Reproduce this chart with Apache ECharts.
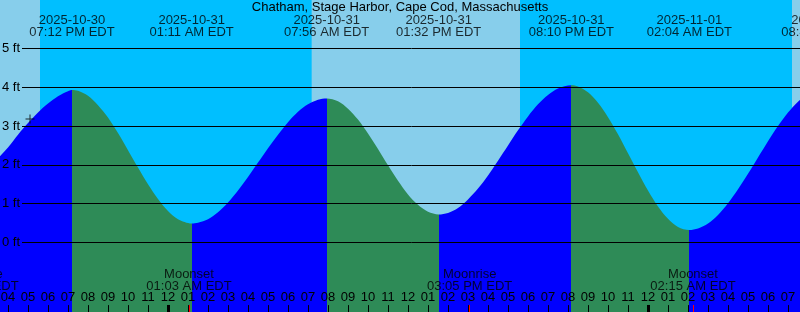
<!DOCTYPE html>
<html><head><meta charset="utf-8">
<script src="https://cdn.jsdelivr.net/npm/echarts@6/dist/echarts.min.js"></script>
<style>html,body{margin:0;padding:0;background:#00BFFF}#c{width:800px;height:312px}</style>
</head><body><div id="c"></div>
<script>
// ---- data (hours relative to 2025-10-31 00:00 EDT) ----
const titleText = 'Chatham, Stage Harbor, Cape Cod, Massachusetts';
const tideHours = [-9, -8.5, -8, -7.5, -7, -6.5, -6, -5.5, -5, -4.8,
  -4.5, -4, -3.5, -3, -2.5, -2, -1.5, -1, -0.5, 0, 0.5, 1.183,
  1.5, 2, 2.5, 3, 3.5, 4, 4.5, 5, 5.5, 6, 6.5, 7, 7.5, 7.933,
  8.5, 9, 9.5, 10, 10.5, 11, 11.5, 12, 12.5, 13, 13.533,
  14, 14.5, 15, 15.5, 16, 16.5, 17, 17.5, 18, 18.5, 19, 19.5, 20.167,
  20.5, 21, 21.5, 22, 22.5, 23, 23.5, 24, 24.5, 25, 25.5, 26.067,
  26.5, 27, 27.5, 28, 28.5, 29, 29.5, 30, 30.5, 31, 31.5, 32, 32.5, 32.8];
const tideFeet = [1.88, 2.17, 2.45, 2.78, 3.08, 3.35, 3.58, 3.77, 3.90, 3.93,
  3.91, 3.78, 3.54, 3.22, 2.82, 2.38, 1.93, 1.50, 1.12, 0.81, 0.60, 0.49,
  0.51, 0.60, 0.78, 1.03, 1.34, 1.69, 2.06, 2.43, 2.78, 3.10, 3.37, 3.56, 3.68, 3.71,
  3.64, 3.45, 3.17, 2.81, 2.41, 1.99, 1.59, 1.24, 0.97, 0.79, 0.72,
  0.76, 0.89, 1.11, 1.39, 1.73, 2.11, 2.50, 2.89, 3.25, 3.56, 3.80, 3.97, 4.05,
  4.02, 3.87, 3.60, 3.23, 2.79, 2.30, 1.81, 1.34, 0.93, 0.61, 0.40, 0.32,
  0.36, 0.49, 0.71, 1.01, 1.37, 1.77, 2.19, 2.61, 3.00, 3.35, 3.63, 3.82, 3.93, 3.95];
const eventHours = [-4.8, 1.183, 7.933, 13.533, 20.167, 26.067, 32.8];
const eventKinds = ['high', 'low', 'high', 'low', 'high', 'low', 'high'];
const eventDates = ['2025-10-30', '2025-10-31', '2025-10-31', '2025-10-31', '2025-10-31', '2025-11-01', '2025-11-01'];
const eventClock = ['07:12 PM EDT', '01:11 AM EDT', '07:56 AM EDT', '01:32 PM EDT', '08:10 PM EDT', '02:04 AM EDT', '08:48 AM EDT'];
const moonHours = [-9.6, 1.05, 15.083, 26.25];
const moonNames = ['Moonrise', 'Moonset', 'Moonrise', 'Moonset'];
const moonClock = ['02:24 PM EDT', '01:03 AM EDT', '03:05 PM EDT', '02:15 AM EDT'];
const dayStartHours = [-9, 7.183, 31.2];
const dayEndHours = [-6.4, 17.6, 32];
const midnightHours = [0, 24];
const footLevels = [0, 1, 2, 3, 4, 5];
const nowHour = -6.9, nowFeet = 3.18;

// ---- layout / style constants ----
const X_MIN = -9, X_MAX = 32, Y_MIN = -2, Y_MAX = 7;
const TOP_LABEL_FT = 5.58, MOON_LABEL_FT = -0.966, TICK_TOP_FT = -1.61, LINE_START_H = -7.3;
const RISE = '#0000FF', FALL = '#2E8B57', DAY = '#87CEEB', NIGHT = '#00BFFF';
const FONT = 'Liberation Sans, Arial, sans-serif';

const pieces = [];
let prev = null;
eventHours.forEach((t, i) => {
  const p = { lt: t, color: eventKinds[i] === 'high' ? RISE : FALL };
  if (prev !== null) p.gte = prev;
  pieces.push(p);
  prev = t;
});
pieces.push({ gte: prev, color: eventKinds[eventKinds.length - 1] === 'high' ? FALL : RISE });

function hourLabel(v) {
  const h = ((Math.round(v) % 24) + 24) % 24;
  const h12 = h % 12 === 0 ? 12 : h % 12;
  return (h12 < 10 ? '0' : '') + h12;
}

const tickLines = [];
midnightHours.forEach(t => tickLines.push([{ coord: [t, Y_MIN], lineStyle: { color: '#000', width: 3 } }, { coord: [t, TICK_TOP_FT] }]));
moonHours.forEach(t => tickLines.push([{ coord: [t, Y_MIN], lineStyle: { color: '#FF0000', width: 1 } }, { coord: [t, TICK_TOP_FT] }]));

const chart = echarts.init(document.getElementById('c'));
chart.setOption({
  animation: false,
  backgroundColor: NIGHT,
  title: { text: titleText, left: 'center', top: 0, padding: [1, 0, 0, 0],
    textStyle: { fontSize: 13, fontWeight: 'normal', color: '#000', fontFamily: FONT } },
  grid: { left: -12, right: -8, top: -29.1, bottom: -8.1, containLabel: false, outerBoundsMode: 'none' },
  xAxis: { type: 'value', min: X_MIN, max: X_MAX, interval: 1, z: 10,
    axisLine: { show: false, onZero: false }, splitLine: { show: false },
    axisTick: { inside: true, length: 15, lineStyle: { color: '#000', width: 1 } },
    axisLabel: { inside: true, margin: 16, fontSize: 13, color: '#000', fontFamily: FONT, formatter: hourLabel } },
  yAxis: { type: 'value', min: Y_MIN, max: Y_MAX, interval: 1, z: 10,
    axisLine: { show: false, onZero: false }, axisTick: { show: false }, splitLine: { show: false },
    axisLabel: { inside: true, margin: 14, fontSize: 13, color: '#000', fontFamily: FONT, verticalAlign: 'middle',
      formatter: v => (footLevels.indexOf(v) >= 0 ? v + ' ft' : '') } },
  visualMap: { type: 'piecewise', show: false, dimension: 0, seriesIndex: 1, pieces: pieces },
  series: [
    { type: 'line', data: [], z: 1, silent: true,
      markArea: { silent: true, itemStyle: { color: DAY }, data: dayStartHours.map((s, i) => [{ xAxis: s }, { xAxis: dayEndHours[i] }]) } },
    { type: 'line', z: 2, silent: true, smooth: 0.3, symbol: 'none',
      data: tideHours.map((t, i) => [t, tideFeet[i]]),
      lineStyle: { width: 0 }, areaStyle: { opacity: 1, origin: 'start' } },
    { type: 'line', data: [], z: 5, silent: true,
      markLine: { silent: true, symbol: ['none', 'none'], label: { show: false },
        lineStyle: { color: '#000', width: 1, type: 'solid' },
        data: footLevels.map(v => [{ coord: [LINE_START_H, v] }, { coord: [X_MAX, v] }]) } },
    { type: 'line', data: [], z: 11, silent: true,
      markLine: { silent: true, symbol: ['none', 'none'], label: { show: false },
        lineStyle: { type: 'solid' }, data: tickLines } },
    { type: 'scatter', z: 7, silent: true, clip: false, symbolSize: 1, itemStyle: { color: 'rgba(0,0,0,0)' },
      data: eventHours.map(t => [t, TOP_LABEL_FT]),
      label: { show: true, position: 'inside', fontSize: 13, lineHeight: 12, color: '#000', fontFamily: FONT,
        formatter: p => eventDates[p.dataIndex] + '\n' + eventClock[p.dataIndex] } },
    { type: 'scatter', z: 7, silent: true, clip: false, symbolSize: 1, itemStyle: { color: 'rgba(0,0,0,0)' },
      data: moonHours.map(t => [t, MOON_LABEL_FT]),
      label: { show: true, position: 'inside', fontSize: 13, lineHeight: 12, color: '#000', fontFamily: FONT,
        formatter: p => moonNames[p.dataIndex] + '\n' + moonClock[p.dataIndex] } },
    { type: 'scatter', z: 8, silent: true, symbol: 'path://M0,4L9,4L9,5L0,5Z M4,0L5,0L5,9L4,9Z', symbolSize: 9,
      itemStyle: { color: '#000' }, data: [[nowHour, nowFeet]] }
  ]
});
</script></body></html>
